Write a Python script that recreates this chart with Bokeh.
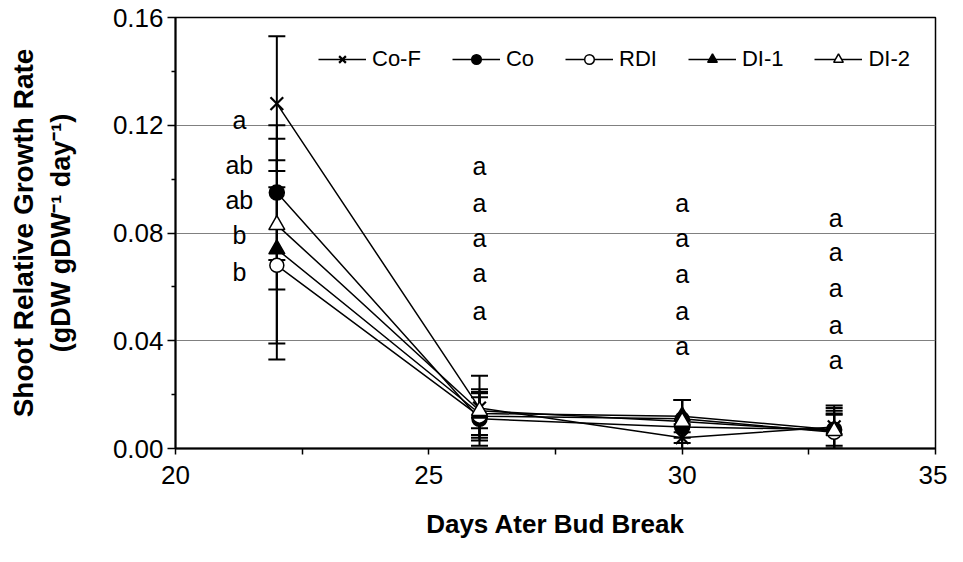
from bokeh.plotting import figure
from bokeh.models import (ColumnDataSource, Whisker, TeeHead, FixedTicker,
                          PrintfTickFormatter, Legend, LegendItem, Range1d, LinearAxis)
from bokeh.core.properties import value
from bokeh.embed import file_html
from bokeh.resources import INLINE

# ---------------- data ----------------
days = [22, 26, 30, 33]
series_names = ["Co-F", "Co", "RDI", "DI-1", "DI-2"]
co_f = [0.128, 0.015, 0.004, 0.008]
co = [0.095, 0.011, 0.008, 0.007]
rdi = [0.068, 0.012, 0.011, 0.006]
di_1 = [0.074, 0.013, 0.012, 0.007]
di_2 = [0.083, 0.014, 0.010, 0.0065]
err_co_f = [0.025, 0.012, 0.005, 0.008]
err_co = [0.025, 0.010, 0.010, 0.008]
err_rdi = [0.029, 0.007, 0.007, 0.0065]
err_di_1 = [0.041, 0.009, 0.006, 0.006]
err_di_2 = [0.024, 0.0065, 0.008, 0.0075]

# significance letters (one column per sampling day)
letters_22 = ["a", "ab", "ab", "b", "b"]
letters_26 = ["a", "a", "a", "a", "a"]
letters_30 = ["a", "a", "a", "a", "a"]
letters_33 = ["a", "a", "a", "a", "a"]
letter_x = [21.26, 26.0, 30.0, 33.03]
letter_y_22 = [0.1218, 0.1054, 0.0924, 0.0791, 0.0657]
letter_y_26 = [0.1047, 0.0913, 0.0783, 0.0650, 0.0512]
letter_y_30 = [0.0910, 0.0780, 0.0646, 0.0512, 0.0379]
letter_y_33 = [0.0857, 0.0728, 0.0594, 0.0460, 0.0327]

x_ticks = [20, 25, 30, 35]
x_minor = [22.5, 27.5, 32.5]
y_ticks = [0.0, 0.04, 0.08, 0.12, 0.16]
y_minor = [0.02, 0.06, 0.10, 0.14]

FONT = "Liberation Sans"

p = figure(width=947, height=546, output_backend="svg", toolbar_location=None,
           x_range=Range1d(20, 35), y_range=Range1d(0, 0.16),
           min_border_left=175, min_border_right=12, min_border_top=17,
           min_border_bottom=98)
p.background_fill_color = "white"
p.border_fill_color = "white"
p.outline_line_color = "black"
p.outline_line_width = 1.5

# axes
for ax in (p.xaxis[0], p.yaxis[0]):
    ax.axis_line_color = "black"
    ax.axis_line_width = 2
    ax.major_tick_line_color = "black"
    ax.minor_tick_line_color = "black"
    ax.major_tick_line_width = 1.5
    ax.minor_tick_line_width = 1.5
    ax.major_tick_in = 0
    ax.minor_tick_in = 0
    ax.major_label_text_font = FONT
    ax.major_label_text_font_size = "26px"
    ax.major_label_text_color = "black"
    ax.axis_label_text_font = FONT
    ax.axis_label_text_font_style = "bold"
    ax.axis_label_text_color = "black"

p.xaxis.ticker = FixedTicker(ticks=x_ticks, minor_ticks=x_minor)
p.xaxis.major_tick_out = 6
p.xaxis.minor_tick_out = 6
p.xaxis.major_label_standoff = 11
p.xaxis.axis_label = "Days Ater Bud Break"
p.xaxis.axis_label_text_font_size = "26px"
p.xaxis.axis_label_standoff = 22

p.yaxis.ticker = FixedTicker(ticks=y_ticks, minor_ticks=y_minor)
p.yaxis.formatter = PrintfTickFormatter(format="%.2f")
p.yaxis.major_tick_out = 8
p.yaxis.minor_tick_out = 4
p.yaxis.major_label_standoff = 4
p.yaxis.axis_label = "(gDW gDW\u207b\u00b9 day\u207b\u00b9)"
p.yaxis.axis_label_text_font_size = "27px"
p.yaxis.axis_label_standoff = 34

# outer line of the y-axis title
outer = LinearAxis(ticker=FixedTicker(ticks=[]), axis_label="Shoot Relative Growth Rate",
                   axis_line_color=None, major_tick_line_color=None,
                   minor_tick_line_color=None, major_tick_out=0, minor_tick_out=0,
                   major_label_standoff=0, axis_label_standoff=4,
                   axis_label_text_font=FONT, axis_label_text_font_size="28px",
                   axis_label_text_font_style="bold", axis_label_text_color="black")
p.add_layout(outer, "left")

p.xgrid.visible = False
p.ygrid.ticker = FixedTicker(ticks=y_ticks)
p.ygrid.grid_line_color = "#808080"
p.ygrid.grid_line_width = 1

values = [co_f, co, rdi, di_1, di_2]
errors = [err_co_f, err_co, err_rdi, err_di_1, err_di_2]
markers = ["x", "circle", "circle", "triangle", "triangle"]
fills = ["black", "black", "white", "black", "white"]
sizes = [18, 15, 14, 16, 16]
marker_widths = [2.2, 1.5, 1.5, 1.5, 1.5]

# error bars
for vals, errs in zip(values, errors):
    src = ColumnDataSource(dict(x=days,
                                upper=[v + e for v, e in zip(vals, errs)],
                                lower=[v - e for v, e in zip(vals, errs)]))
    w = Whisker(source=src, base="x", upper="upper", lower="lower",
                line_color="black", line_width=2,
                upper_head=TeeHead(size=17, line_color="black", line_width=2),
                lower_head=TeeHead(size=17, line_color="black", line_width=2))
    p.add_layout(w)

items = []
for name, vals, mk, fc, sz, mw in zip(series_names, values, markers, fills, sizes, marker_widths):
    src = ColumnDataSource(dict(x=days, y=vals))
    ln = p.line("x", "y", source=src, line_color="black", line_width=1.5)
    sc = p.scatter("x", "y", source=src, marker=mk, size=sz, line_color="black",
                   fill_color=fc, line_width=mw)
    items.append(LegendItem(label=name, renderers=[ln, sc]))

legend = Legend(items=items, orientation="horizontal", location=(143, 376),
                glyph_width=48, glyph_height=24, label_height=24, label_standoff=6,
                spacing=31, padding=0, margin=0,
                label_text_font=FONT, label_text_font_size="22px",
                label_text_color="black", background_fill_alpha=0,
                border_line_alpha=0)
p.add_layout(legend)

# letters
for xs, labs, ys in zip(letter_x, [letters_22, letters_26, letters_30, letters_33],
                        [letter_y_22, letter_y_26, letter_y_30, letter_y_33]):
    src = ColumnDataSource(dict(x=[xs] * len(labs), y=ys, t=labs))
    p.text("x", "y", text="t", source=src, text_font=value(FONT),
           text_font_size="25px", text_align="center", text_baseline="middle",
           text_color="black")

open("out.html", "w").write(file_html(p, INLINE))
